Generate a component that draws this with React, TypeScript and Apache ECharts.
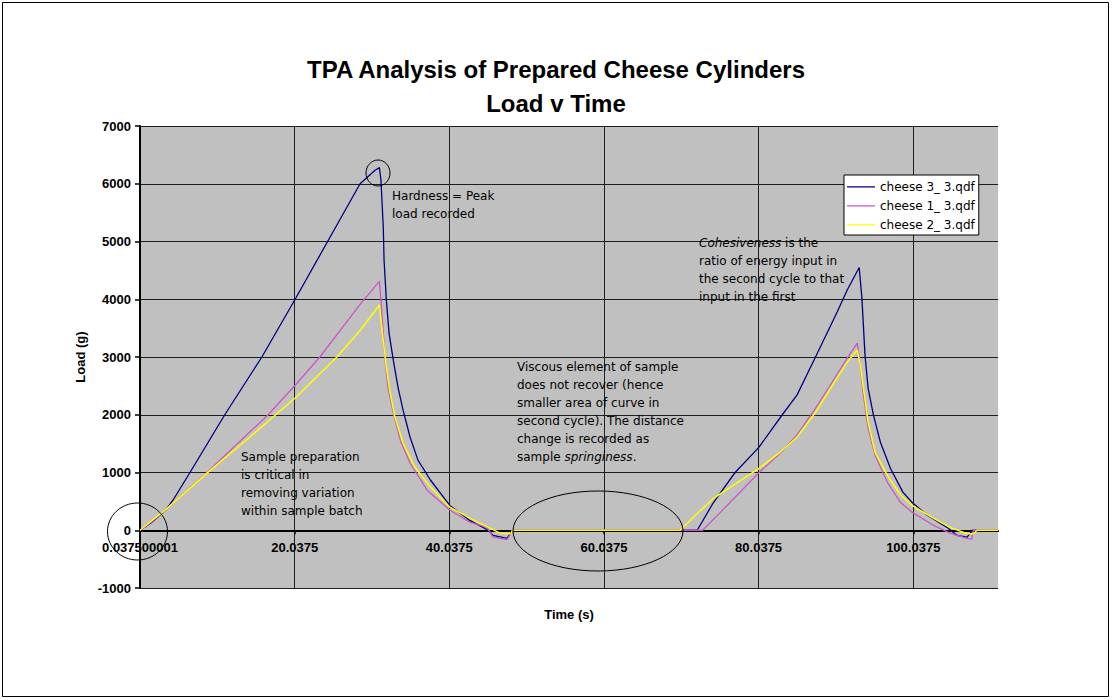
import React, { useEffect, useRef } from "react";
import * as echarts from "echarts";

const seriesNames = ["cheese 3_ 3.qdf", "cheese 1_ 3.qdf", "cheese 2_ 3.qdf"];
const seriesColors = ["#000080", "#CC55C8", "#FFFF00"];

// cheese 3 (navy)
const c3Time = [0.0375, 1.5, 3.3, 4.3, 6.5, 11.0, 15.8, 20.1, 24.3, 28.5, 30.4, 31.0, 31.2, 31.5, 31.6, 31.9, 32.25, 32.8, 33.4, 34.06, 34.97, 36.0, 37.6, 40.1, 42.7, 45.06, 45.7, 47.5, 48.2, 60.0, 72.1, 74.2, 77.0, 80.1, 83.1, 85.0, 87.4, 90.2, 91.5, 93.05, 93.4, 93.8, 94.2, 94.9, 95.8, 97.1, 98.7, 99.9, 101.85, 104.4, 105.7, 107.0, 107.7, 111.0];
const c3Load = [0, 130, 340, 520, 1000, 2000, 3000, 4000, 5000, 6000, 6230, 6280, 6060, 5250, 4680, 3980, 3410, 2940, 2480, 2080, 1610, 1210, 870, 430, 170, 0, -90, -140, 0, 0, 0, 480, 1000, 1440, 2000, 2340, 3000, 3780, 4160, 4550, 4020, 3030, 2460, 1990, 1520, 1070, 660, 480, 260, 50, -90, -120, 0, 0];

// cheese 1 (magenta)
const c1Time = [0.0375, 1.5, 3.3, 8.7, 16.6, 20.1, 23.3, 28.5, 31.0, 31.2, 31.5, 31.7, 32.1, 32.8, 33.7, 34.97, 37.2, 40.1, 42.7, 44.9, 45.7, 47.5, 48.3, 60.0, 72.8, 75.1, 80.1, 82.8, 85.0, 87.4, 89.3, 91.5, 92.8, 93.2, 93.6, 94.2, 95.1, 96.7, 98.4, 99.9, 102.6, 104.8, 107.0, 107.6, 107.8, 111.0];
const c1Load = [0, 140, 350, 1000, 2000, 2510, 3000, 3910, 4310, 3980, 3410, 3000, 2480, 2030, 1560, 1160, 690, 350, 140, 50, -120, -160, 0, 0, 0, 310, 1000, 1330, 1650, 2110, 2510, 2980, 3240, 2860, 2340, 1770, 1300, 830, 480, 310, 90, -50, -140, -160, 0, 0];

// cheese 2 (yellow)
const c2Time = [0.0375, 1.5, 3.3, 8.7, 14.2, 20.1, 25.5, 28.5, 31.0, 31.2, 31.5, 31.9, 32.4, 33.0, 34.06, 35.6, 37.6, 40.1, 42.7, 45.1, 46.6, 48.0, 48.2, 60.0, 69.9, 72.1, 74.2, 80.1, 82.8, 85.0, 87.4, 89.3, 91.5, 92.8, 93.2, 93.6, 94.2, 95.1, 96.7, 98.4, 99.9, 102.6, 104.8, 107.0, 107.8, 108.3, 111.0];
const c2Load = [0, 160, 350, 990, 1610, 2290, 3000, 3460, 3900, 3640, 3290, 2820, 2370, 1960, 1510, 1090, 750, 400, 210, 50, -50, -60, 0, 0, 0, 290, 550, 1070, 1350, 1610, 2040, 2450, 2910, 3120, 2860, 2460, 1870, 1350, 950, 610, 430, 210, 50, -60, -60, 0, 0];

const timeMin = 0.0375;
const timeMax = 111;
const timeStep = 20;
const firstTimeLabel = "0.037500001";
const loadMin = -1000;
const loadMax = 7000;
const loadStep = 1000;

const titleLines = ["TPA Analysis of Prepared Cheese Cylinders", "Load v Time"];
const xName = "Time (s)";
const yName = "Load (g)";

const noteHardness = "Hardness = Peak\nload recorded";
const noteCohesive = "{i|Cohesiveness} is the\nratio of energy input in\nthe second cycle to that\ninput in the first";
const noteViscous = "Viscous element of sample\ndoes not recover (hence\nsmaller area of curve in\nsecond cycle). The distance\nchange is recorded as\nsample {i|springiness}.";
const noteSample = "Sample preparation\nis critical in\nremoving variation\nwithin sample batch";

function pairs(t: number[], v: number[]) {
  return t.map((x, i) => [x, v[i]]);
}

const LEGEND_LINE = "path://M0,0L0,0ZM28,14L28,14ZM0,6.2L28,6.2L28,7.6L0,7.6Z";

export default function App() {
  const ref = useRef<HTMLDivElement>(null);
  useEffect(() => {
    if (!ref.current) return;
    const chart = echarts.init(ref.current, null, { renderer: "svg" });
    const noteFont = { fontFamily: "DejaVu Sans", fontSize: 12, fill: "#000", lineHeight: 18 };
    const rich = { i: { fontStyle: "italic", fontFamily: "DejaVu Sans", fontSize: 12, lineHeight: 18, color: "#000" } };
    const axisLabelFont = { fontFamily: "Liberation Sans", fontWeight: "bold", fontSize: 13, color: "#000" };
    const titleFont = { fontFamily: "Liberation Sans", fontWeight: "bold", fontSize: 24, color: "#000" };
    const data = [pairs(c3Time, c3Load), pairs(c1Time, c1Load), pairs(c2Time, c2Load)];
    chart.setOption({
      animation: false,
      backgroundColor: "#ffffff",
      title: [
        { text: titleLines[0], left: "center", top: 57, padding: 0, textStyle: titleFont },
        { text: titleLines[1], left: "center", top: 91, padding: 0, textStyle: titleFont },
      ],
      legend: {
        orient: "vertical",
        left: 844,
        top: 175,
        backgroundColor: "#ffffff",
        borderColor: "#000",
        borderWidth: 1,
        borderRadius: 0,
        padding: [5, 4, 3, 3],
        itemGap: 5,
        itemWidth: 28,
        itemHeight: 14,
        icon: LEGEND_LINE,
        textStyle: { fontFamily: "DejaVu Sans", fontSize: 12, color: "#000" },
        data: seriesNames,
      },
      grid: {
        left: 140,
        right: 114,
        top: 126,
        bottom: 112,
        show: true,
        backgroundColor: "#C0C0C0",
        borderWidth: 0,
      },
      xAxis: {
        type: "value",
        min: timeMin,
        max: timeMax,
        interval: timeStep,
        name: xName,
        nameLocation: "middle",
        nameGap: 20,
        nameTextStyle: { fontFamily: "Liberation Sans", fontWeight: "bold", fontSize: 13, color: "#000" },
        axisLine: { show: true, onZero: true, lineStyle: { color: "#000", width: 2 } },
        axisTick: { show: true, length: 4, lineStyle: { color: "#000", width: 1.5 } },
        axisLabel: {
          ...axisLabelFont,
          margin: -47,
          showMaxLabel: false,
          formatter: (v: number) => {
            const k = Math.round((v - timeMin) / timeStep);
            if (Math.abs(v - (timeMin + k * timeStep)) > 0.5) return "";
            if (k === 0) return firstTimeLabel;
            return (timeMin + k * timeStep).toFixed(4);
          },
        },
        splitLine: { show: true, showMaxLine: false, lineStyle: { color: "#1e1e1e", width: 1 } },
      },
      yAxis: {
        type: "value",
        min: loadMin,
        max: loadMax,
        interval: loadStep,
        name: yName,
        nameLocation: "middle",
        nameRotate: 90,
        nameGap: 45,
        nameTextStyle: { fontFamily: "Liberation Sans", fontWeight: "bold", fontSize: 13, color: "#000" },
        axisLine: { show: true, onZero: false, lineStyle: { color: "#000", width: 2 } },
        axisTick: { show: true, length: 5, lineStyle: { color: "#000", width: 1.5 } },
        axisLabel: { ...axisLabelFont, margin: 9, formatter: (v: number) => String(v) },
        splitLine: { show: true, lineStyle: { color: "#1e1e1e", width: 1 } },
      },
      series: seriesNames.map((name, i) => ({
        name,
        type: "line",
        data: data[i],
        symbol: "none",
        showSymbol: false,
        smooth: false,
        color: seriesColors[i],
        lineStyle: { color: seriesColors[i], width: i === 2 ? 1.5 : 1.3 },
        z: 3 + i,
      })),
      graphic: [
        { type: "rect", shape: { x: 2.5, y: 2.5, width: 1106, height: 694 }, style: { fill: "none", stroke: "#000", lineWidth: 1 }, z: 0, silent: true },
        { type: "ellipse", shape: { cx: 378, cy: 173, rx: 12, ry: 13 }, style: { fill: "none", stroke: "#000", lineWidth: 1 }, z: 100 },
        { type: "ellipse", shape: { cx: 137.5, cy: 531.5, rx: 30, ry: 28.5 }, style: { fill: "none", stroke: "#000", lineWidth: 1 }, z: 100 },
        { type: "ellipse", shape: { cx: 598, cy: 531, rx: 85, ry: 40 }, style: { fill: "none", stroke: "#000", lineWidth: 1 }, z: 100 },
        { type: "text", x: 392, y: 187, style: { ...noteFont, text: noteHardness, verticalAlign: "top" }, z: 100 },
        { type: "text", x: 699, y: 234, style: { ...noteFont, text: noteCohesive, rich, verticalAlign: "top" }, z: 100 },
        { type: "text", x: 517, y: 358, style: { ...noteFont, text: noteViscous, rich, verticalAlign: "top" }, z: 100 },
        { type: "text", x: 241, y: 448, style: { ...noteFont, text: noteSample, verticalAlign: "top" }, z: 100 },
      ],
    });
    return () => chart.dispose();
  }, []);
  return (
    <div
      ref={ref}
      style={{ position: "fixed", left: 0, top: 0, width: 1112, height: 700, background: "#fff" }}
    />
  );
}
